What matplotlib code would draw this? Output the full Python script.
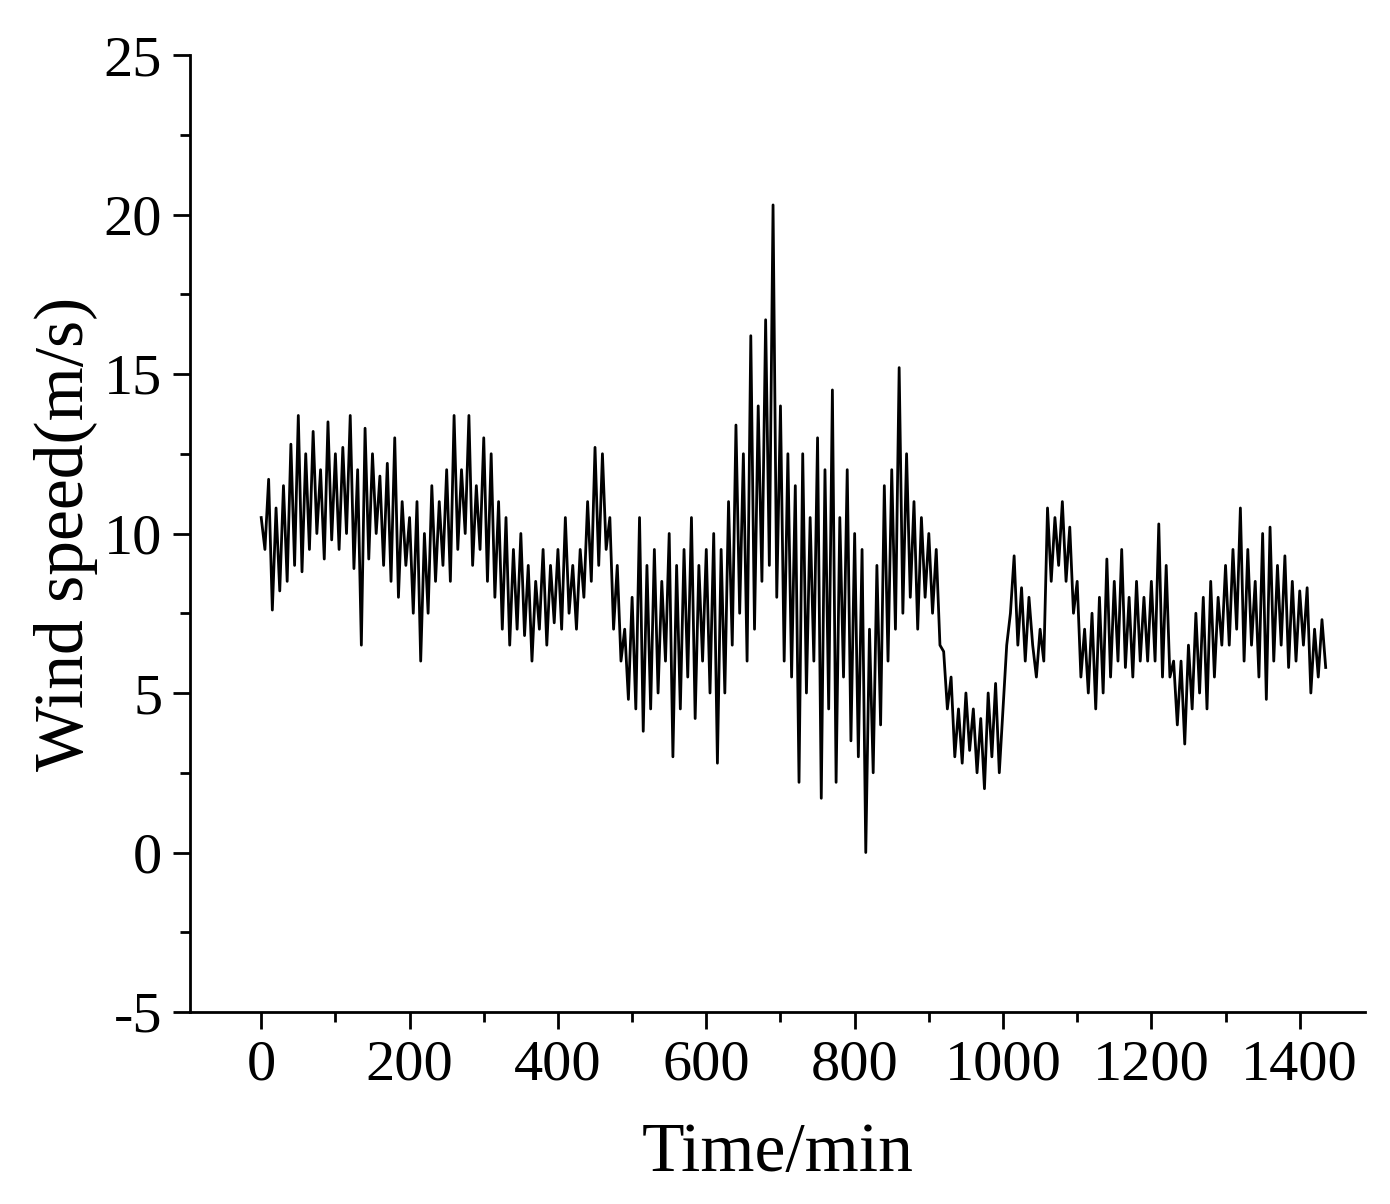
import matplotlib.pyplot as plt
from matplotlib.ticker import MultipleLocator

speed = [
    10.5, 9.5, 11.7, 7.6, 10.8, 8.2, 11.5, 8.5, 12.8, 9.0, 13.7, 8.8, 12.5, 9.5, 13.2, 10.0, 12.0, 9.2, 13.5, 9.8,
    12.5, 9.5, 12.7, 10.0, 13.7, 8.9, 12.0, 6.5, 13.3, 9.2, 12.5, 10.0, 11.8, 9.0, 12.2, 8.5, 13.0, 8.0, 11.0, 9.0,
    10.5, 7.5, 11.0, 6.0, 10.0, 7.5, 11.5, 8.5, 11.0, 9.0, 12.0, 8.5, 13.7, 9.5, 12.0, 10.0, 13.7, 9.0, 11.5, 9.5,
    13.0, 8.5, 12.5, 8.0, 11.0, 7.0, 10.5, 6.5, 9.5, 7.0, 10.0, 6.8, 9.0, 6.0, 8.5, 7.0, 9.5, 6.5, 9.0, 7.2,
    9.5, 7.0, 10.5, 7.5, 9.0, 7.0, 9.5, 8.0, 11.0, 8.5, 12.7, 9.0, 12.5, 9.5, 10.5, 7.0, 9.0, 6.0, 7.0, 4.8,
    8.0, 4.5, 10.5, 3.8, 9.0, 4.5, 9.5, 5.0, 8.5, 6.0, 10.0, 3.0, 9.0, 4.5, 9.5, 5.5, 10.5, 4.2, 9.0, 6.0,
    9.5, 5.0, 10.0, 2.8, 9.5, 5.0, 11.0, 6.5, 13.4, 7.5, 12.5, 6.0, 16.2, 7.0, 14.0, 8.5, 16.7, 9.0, 20.3, 8.0,
    14.0, 6.0, 12.5, 5.5, 11.5, 2.2, 12.5, 5.0, 10.5, 6.0, 13.0, 1.7, 12.0, 4.5, 14.5, 2.2, 10.5, 5.5, 12.0, 3.5,
    10.0, 3.0, 9.5, 0.0, 7.0, 2.5, 9.0, 4.0, 11.5, 6.0, 12.0, 7.0, 15.2, 7.5, 12.5, 8.0, 11.0, 7.0, 10.5, 8.0,
    10.0, 7.5, 9.5, 6.5, 6.3, 4.5, 5.5, 3.0, 4.5, 2.8, 5.0, 3.2, 4.5, 2.5, 4.2, 2.0, 5.0, 3.0, 5.3, 2.5,
    4.5, 6.5, 7.5, 9.3, 6.5, 8.3, 6.0, 8.0, 6.5, 5.5, 7.0, 6.0, 10.8, 8.5, 10.5, 9.0, 11.0, 8.5, 10.2, 7.5,
    8.5, 5.5, 7.0, 5.0, 7.5, 4.5, 8.0, 5.0, 9.2, 5.5, 8.5, 6.0, 9.5, 5.8, 8.0, 5.5, 8.5, 6.0, 8.0, 6.0,
    8.5, 6.0, 10.3, 5.5, 9.0, 5.5, 6.0, 4.0, 6.0, 3.4, 6.5, 4.5, 7.5, 5.0, 8.0, 4.5, 8.5, 5.5, 8.0, 6.5,
    9.0, 6.5, 9.5, 7.0, 10.8, 6.0, 9.5, 6.5, 8.5, 5.5, 10.0, 4.8, 10.2, 6.0, 9.0, 6.5, 9.3, 5.8, 8.5, 6.0,
    8.2, 6.5, 8.3, 5.0, 7.0, 5.5, 7.3, 5.8,
]
time = [5 * i for i in range(len(speed))]

plt.rcParams['font.family'] = ['Liberation Serif', 'DejaVu Serif']
plt.rcParams['axes.unicode_minus'] = False

fig = plt.figure(figsize=(13.9, 12.04), dpi=100)
ax = fig.add_axes([190 / 1390, 1 - 1012 / 1204, 1175 / 1390, 957 / 1204])
ax.plot(time, speed, color='black', linewidth=2)

ax.set_xlim(-96, 1488)
ax.set_ylim(-5, 25)
ax.xaxis.set_major_locator(MultipleLocator(200))
ax.xaxis.set_minor_locator(MultipleLocator(100))
ax.yaxis.set_major_locator(MultipleLocator(5))
ax.yaxis.set_minor_locator(MultipleLocator(2.5))
ax.spines['top'].set_visible(False)
ax.spines['right'].set_visible(False)
for s in ('left', 'bottom'):
    ax.spines[s].set_linewidth(2)
ax.tick_params(which='major', direction='out', length=12, width=2, labelsize=42, pad=8)
ax.tick_params(which='minor', direction='out', length=7, width=2)

ax.set_xlabel('Time/min', fontsize=50, labelpad=22)
ax.set_ylabel('Wind speed(m/s)', fontsize=50, labelpad=4)

fig.savefig('out.png', dpi=100)
